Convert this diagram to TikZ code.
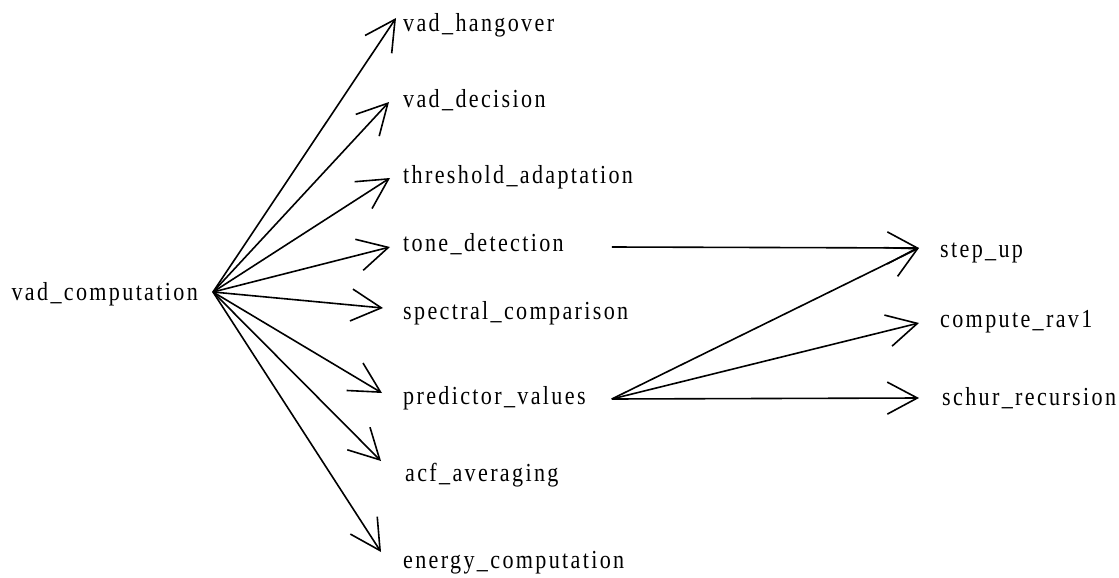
\documentclass[tikz,border=0pt]{standalone}
\usepackage{fontspec}
\setmainfont{Liberation Serif}[LetterSpace=9, FakeStretch=0.85]
\usepackage{tikz}
\usetikzlibrary{arrows.meta}

\tikzset{
	lbl/.style={anchor=base west, inner sep=0pt, font=\fontsize{26}{30}\selectfont},
	arr/.style={line width=1.6pt, -{Straight Barb[length=30pt, width=32pt, line width=1.6pt]}}
}

\begin{document}
\begin{tikzpicture}[x=1pt, y=-1pt]
	\useasboundingbox (0,0) rectangle (1119,578);
	\node[lbl, anchor=base east] (vc) at (198,300){vad\_computation};
	\node[lbl] (vh) at (403,32){vad\_hangover};
	\node[lbl] (vd) at (403,107){vad\_decision};
	\node[lbl] (ta) at (403,183){threshold\_adaptation};
	\node[lbl] (td) at (403,251){tone\_detection};
	\node[lbl] (sc) at (403,319){spectral\_comparison};
	\node[lbl] (pv) at (403,404){predictor\_values};
	\node[lbl] (aa) at (405,481){acf\_averaging};
	\node[lbl] (ec) at (403,568){energy\_computation};
	\node[lbl] (su) at (940,257){step\_up};
	\node[lbl] (cr) at (940,327){compute\_rav1};
	\node[lbl] (sr) at (942,405){schur\_recursion};

	\coordinate (hub) at ([xshift=15pt, yshift=8pt]vc.base east);
		\draw[arr] (hub) -- ([xshift=-7pt, yshift=14pt]vh.base west);
		\draw[arr] (hub) -- ([xshift=-14pt, yshift=5pt]vd.base west);
		\draw[arr] (hub) -- ([xshift=-13pt, yshift=5pt]ta.base west);
		\draw[arr] (hub) -- ([xshift=-13pt, yshift=4pt]td.base west);
		\draw[arr] (hub) -- ([xshift=-20pt, yshift=11pt]sc.base west);
		\draw[arr] (hub) -- ([xshift=-21pt, yshift=11pt]pv.base west);
		\draw[arr] (hub) -- ([xshift=-24pt, yshift=20pt]aa.base west);
		\draw[arr] (hub) -- ([xshift=-22pt, yshift=16pt]ec.base west);

	\draw[arr] ([xshift=48pt, yshift=4pt]td.base east) -- ([xshift=-21pt, yshift=9pt]su.base west);
	\draw[arr] ([xshift=26pt, yshift=5pt]pv.base east) -- ([xshift=-21pt, yshift=9pt]su.base west);
	\draw[arr] ([xshift=26pt, yshift=5pt]pv.base east) -- ([xshift=-21pt, yshift=4pt]cr.base west);
	\draw[arr] ([xshift=26pt, yshift=5pt]pv.base east) -- ([xshift=-23pt, yshift=7pt]sr.base west);
\end{tikzpicture}
\end{document}
